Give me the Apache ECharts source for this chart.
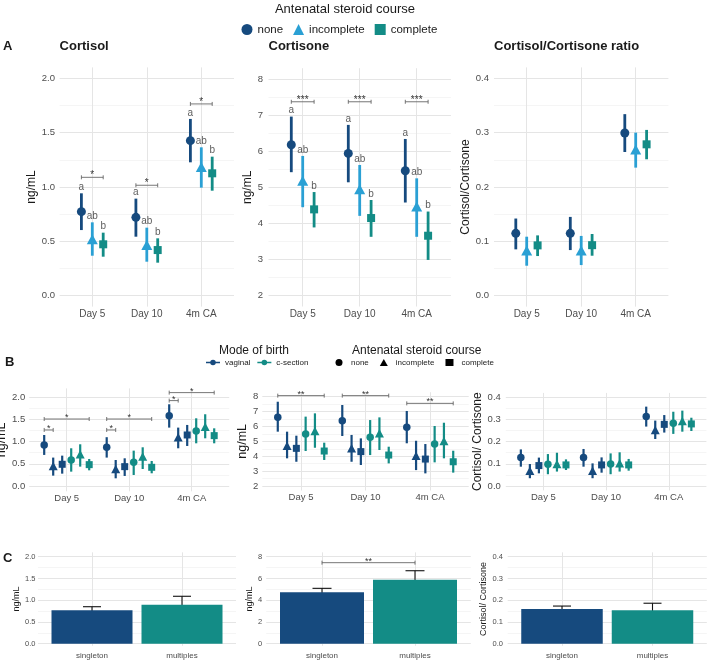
<!DOCTYPE html>
<html><head><meta charset="utf-8">
<script src="https://cdn.jsdelivr.net/npm/echarts@6/dist/echarts.min.js"></script>
<style>html,body{margin:0;padding:0;background:#fff}#c{width:708px;height:661px}</style>
</head><body><div id="c"></div>
<script>
// ---------------- DATA ----------------
const timepoints = ['Day 5', 'Day 10', '4m CA'];
const pluralityGroups = ['singleton', 'multiples'];
const groupLetters = ['a', 'ab', 'b'];

// Panel A: [mean, lower, upper] for Day 5, Day 10, 4m CA
const aCortisolNone = [[0.773,0.604,0.942],[0.721,0.543,0.893],[1.426,1.227,1.626]];
const aCortisolIncomplete = [[0.52,0.368,0.675],[0.466,0.313,0.626],[1.184,0.994,1.365]];
const aCortisolComplete = [[0.473,0.359,0.58],[0.42,0.304,0.528],[1.126,0.966,1.279]];
const aCortisolSig = [1.089, 1.016, 1.764];
const aCortisolSigText = ['*', '*', '*'];

const aCortisoneNone = [[6.18,5.42,6.96],[5.94,5.14,6.73],[5.46,4.58,6.34]];
const aCortisoneIncomplete = [[5.18,4.45,5.87],[4.95,4.21,5.62],[4.47,3.63,5.25]];
const aCortisoneComplete = [[4.39,3.89,4.87],[4.15,3.63,4.65],[3.66,2.99,4.33]];
const aCortisoneSig = [7.37, 7.37, 7.37];
const aCortisoneSigText = ['***', '***', '***'];

const aRatioNone = [[0.1147,0.0853,0.142],[0.1147,0.084,0.145],[0.2994,0.2644,0.334]];
const aRatioIncomplete = [[0.083,0.0552,0.1086],[0.083,0.0564,0.11],[0.269,0.2356,0.30]];
const aRatioComplete = [[0.0926,0.073,0.111],[0.093,0.0736,0.1135],[0.2785,0.251,0.305]];

// Panel B: [mean, lower, upper] for Day 5, Day 10, 4m CA
const bCortisolVagNone = [[0.925,0.70,1.15],[0.872,0.64,1.10],[1.586,1.316,1.842]];
const bCortisolVagIncomplete = [[0.45,0.233,0.64],[0.383,0.173,0.586],[1.098,0.85,1.316]];
const bCortisolVagComplete = [[0.489,0.278,0.684],[0.436,0.226,0.624],[1.15,0.902,1.376]];
const bCortisolCsNone = [[0.586,0.323,0.85],[0.534,0.248,0.797],[1.24,0.962,1.526]];
const bCortisolCsIncomplete = [[0.714,0.436,0.94],[0.662,0.383,0.872],[1.338,1.075,1.617]];
const bCortisolCsComplete = [[0.481,0.353,0.609],[0.421,0.286,0.564],[1.135,0.962,1.30]];
const bCortisolSigShort = [1.263, 1.263, 1.925];
const bCortisolSigLong = [1.51, 1.51, 2.105];

const bCortisoneVagNone = [[6.61,5.65,7.66],[6.39,5.36,7.44],[5.94,4.87,7.04]];
const bCortisoneVagIncomplete = [[4.71,3.86,5.65],[4.53,3.63,5.43],[4.04,3.07,5.04]];
const bCortisoneVagComplete = [[4.53,3.63,5.38],[4.31,3.41,5.2],[3.81,2.85,4.82]];
const bCortisoneCsNone = [[5.49,4.35,6.66],[5.27,4.08,6.43],[4.82,3.59,6.03]];
const bCortisoneCsIncomplete = [[5.69,4.57,6.88],[5.54,4.42,6.61],[5.02,3.86,6.25]];
const bCortisoneCsComplete = [[4.35,3.75,4.91],[4.08,3.52,4.64],[3.63,2.9,4.37]];
const bCortisoneSig = [8.07, 8.07, 7.55];

const bRatioVagNone = [[0.128,0.087,0.165],[0.128,0.087,0.167],[0.313,0.268,0.358]];
const bRatioVagIncomplete = [[0.069,0.035,0.099],[0.069,0.035,0.102],[0.253,0.212,0.295]];
const bRatioVagComplete = [[0.092,0.057,0.128],[0.095,0.06,0.129],[0.278,0.241,0.32]];
const bRatioCsNone = [[0.098,0.053,0.144],[0.099,0.053,0.147],[0.283,0.235,0.335]];
const bRatioCsIncomplete = [[0.099,0.065,0.15],[0.102,0.065,0.152],[0.293,0.245,0.34]];
const bRatioCsComplete = [[0.095,0.072,0.12],[0.095,0.069,0.122],[0.28,0.248,0.308]];

// Panel C: [mean, lower, upper] for singleton, multiples
const cCortisol = [[0.768,0.676,0.85],[0.897,0.713,1.09]];
const cCortisone = [[4.73,4.36,5.09],[5.89,5.03,6.71]];
const cCortisoneSig = 7.45;
const cRatio = [[0.1595,0.143,0.173],[0.1535,0.121,0.186]];

// ---------------- STYLE ----------------
const FONT = '"Liberation Sans", Arial, Helvetica, sans-serif';
const COL_NONE = '#164a7e', COL_INC = '#2aa0d4', COL_COMP = '#138c86';
const COL_VAG = '#164a7e', COL_CS = '#138c86';
const GRID_C = '#e5e5e5', MINOR_C = '#f1f1f1';
const TICK_C = '#4d4d4d';

const option = {animation:false, backgroundColor:'#fff', textStyle:{fontFamily:FONT},
  grid:[], xAxis:[], yAxis:[], series:[], title:[], legend:[]};

const isMult = (v, s) => Math.abs(v / s - Math.round(v / s)) < 1e-6;

function addPanel(p) {
  const gi = option.grid.length;
  option.grid.push({left:p.left, top:p.top, width:p.width, height:p.height, containLabel:false, outerBoundsMode:'none'});
  option.xAxis.push({type:'value', gridIndex:gi, min:p.xmin, max:p.xmax, minInterval:1, maxInterval:1,
    axisLine:{show:false}, axisTick:{show:false},
    axisLabel:{color:TICK_C, fontSize:p.xFont, margin:p.xMargin, fontFamily:FONT,
      formatter: v => (isMult(v,1) && v >= 1 && v <= p.cats.length) ? p.cats[Math.round(v)-1] : ''},
    splitLine:{show:true, showMinLine:false, showMaxLine:false, lineStyle:{color:GRID_C, width:1}}});
  option.yAxis.push({type:'value', gridIndex:gi, min:p.ymin, max:p.ymax, minInterval:p.yint, maxInterval:p.yint,
    name:p.yName, nameLocation:'middle', nameGap:p.nameGap, nameRotate:90,
    nameTextStyle:{color:'#1a1a1a', fontSize:p.nameFont, fontFamily:FONT},
    axisLine:{show:false}, axisTick:{show:false},
    axisLabel:{color:TICK_C, fontSize:p.yFont, margin:p.yMargin, fontFamily:FONT,
      formatter: v => isMult(v, p.yint) ? v.toFixed(p.dec) : ''},
    splitLine:{show:true, showMinLine:false, showMaxLine:false, lineStyle:{color:GRID_C, width:1}},
    minorTick:{show:false, splitNumber:2},
    minorSplitLine:{show:true, lineStyle:{color:MINOR_C, width:0.7}}});
  return gi;
}

function errBars(gi, rows, color, lw, capPx) {
  option.series.push({type:'custom', xAxisIndex:gi, yAxisIndex:gi, silent:true, z:2, clip:false,
    data: rows, encode:{x:0, y:[1,2]},
    renderItem: function(params, api) {
      const x = api.value(0), a = api.coord([x, api.value(1)]), b = api.coord([x, api.value(2)]);
      const st = {stroke:color, lineWidth:lw};
      const ch = [{type:'line', shape:{x1:a[0], y1:a[1], x2:b[0], y2:b[1]}, style:st}];
      if (capPx) {
        ch.push({type:'line', shape:{x1:a[0]-capPx/2, y1:a[1], x2:a[0]+capPx/2, y2:a[1]}, style:st});
        ch.push({type:'line', shape:{x1:b[0]-capPx/2, y1:b[1], x2:b[0]+capPx/2, y2:b[1]}, style:st});
      }
      return {type:'group', children:ch};
    }});
}

function brackets(gi, rows, fontSize) { // rows: [x1, x2, y, text]
  option.series.push({type:'custom', xAxisIndex:gi, yAxisIndex:gi, silent:true, z:4, clip:false,
    data: rows.map(r => [r[0], r[1], r[2]]), encode:{x:[0,1], y:2},
    renderItem: function(params, api) {
      const t = rows[params.dataIndex][3];
      const a = api.coord([api.value(0), api.value(2)]), b = api.coord([api.value(1), api.value(2)]);
      const st = {stroke:'#666', lineWidth:0.9};
      return {type:'group', children:[
        {type:'line', shape:{x1:a[0], y1:a[1], x2:b[0], y2:b[1]}, style:st},
        {type:'line', shape:{x1:a[0], y1:a[1]-2, x2:a[0], y2:a[1]+2}, style:st},
        {type:'line', shape:{x1:b[0], y1:b[1]-2, x2:b[0], y2:b[1]+2}, style:st},
        {type:'text', x:(a[0]+b[0])/2, y:a[1]+3,
          style:{text:t, align:'center', verticalAlign:'bottom', textAlign:'center', textVerticalAlign:'bottom',
                 fill:'#333', fontSize:fontSize, fontFamily:FONT}}
      ]};
    }});
}

function pointGroups(gi, groups, dodge, colors, symbols, sizes, names, lw) {
  groups.forEach((g, k) => {
    errBars(gi, g.map((r, i) => [i + 1 + dodge[k], r[1], r[2]]), colors[k], lw, 0);
  });
  groups.forEach((g, k) => {
    option.series.push({type:'scatter', name:names[k], xAxisIndex:gi, yAxisIndex:gi, silent:true, z:3,
      symbol:symbols[k], symbolSize:sizes[k], itemStyle:{color:colors[k], opacity:1}, emphasis:{disabled:true},
      data: g.map((r, i) => [i + 1 + dodge[k], r[0]])});
  });
}

function letters(gi, groups, dodge) {
  const data = [];
  groups.forEach((g, k) => g.forEach((r, i) => data.push({name:groupLetters[k], value:[i + 1 + dodge[k], r[2]]})));
  option.series.push({type:'scatter', xAxisIndex:gi, yAxisIndex:gi, silent:true, z:4, symbolSize:0.1,
    itemStyle:{color:'rgba(0,0,0,0)'}, data:data,
    label:{show:true, position:'top', distance:1, formatter:'{b}', color:'#333', fontSize:10, fontFamily:FONT}});
}

// ---------------- PANEL A ----------------
const dodgeA = [-0.2, 0, 0.2];
const aColors = [COL_NONE, COL_INC, COL_COMP];
const aSymbols = ['circle', 'triangle', 'rect'];
const aSizes = [9, [11, 10], 8];
const aNames = ['none', 'incomplete', 'complete'];

const gA1 = addPanel({left:59.6, top:67.4, width:174.4, height:239.2, xmin:0.4, xmax:3.6, cats:timepoints,
  ymin:-0.1, ymax:2.1, yint:0.5, dec:1, yName:'ng/mL', nameGap:21.6, nameFont:12, yFont:9.5, yMargin:4.6, xFont:10, xMargin:2.5});
const aCortisolGroups = [aCortisolNone, aCortisolIncomplete, aCortisolComplete];
pointGroups(gA1, aCortisolGroups, dodgeA, aColors, aSymbols, aSizes, aNames, 2.8);
letters(gA1, aCortisolGroups, dodgeA);
brackets(gA1, aCortisolSig.map((y, i) => [i + 1 - 0.2, i + 1 + 0.2, y, aCortisolSigText[i]]), 10);

const gA2 = addPanel({left:268.5, top:68.2, width:182.4, height:238.3, xmin:0.4, xmax:3.6, cats:timepoints,
  ymin:1.7, ymax:8.3, yint:1, dec:0, yName:'ng/mL', nameGap:12.5, nameFont:12, yFont:9.5, yMargin:5.5, xFont:10, xMargin:2.5});
const aCortisoneGroups = [aCortisoneNone, aCortisoneIncomplete, aCortisoneComplete];
pointGroups(gA2, aCortisoneGroups, dodgeA, aColors, aSymbols, aSizes, aNames, 2.8);
letters(gA2, aCortisoneGroups, dodgeA);
brackets(gA2, aCortisoneSig.map((y, i) => [i + 1 - 0.2, i + 1 + 0.2, y, aCortisoneSigText[i]]), 10);

const gA3 = addPanel({left:494, top:67.4, width:174.4, height:239.2, xmin:0.4, xmax:3.6, cats:timepoints,
  ymin:-0.02, ymax:0.42, yint:0.1, dec:1, yName:'Cortisol/Cortisone', nameGap:21.3, nameFont:12, yFont:9.5, yMargin:5, xFont:10, xMargin:2.5});
pointGroups(gA3, [aRatioNone, aRatioIncomplete, aRatioComplete], dodgeA, aColors, aSymbols, aSizes, aNames, 2.8);

// ---------------- PANEL B ----------------
const dodgeB = [-0.36, -0.216, -0.072, 0.072, 0.216, 0.36];
const bColors = [COL_VAG, COL_VAG, COL_VAG, COL_CS, COL_CS, COL_CS];
const bSymbols = ['circle', 'triangle', 'rect', 'circle', 'triangle', 'rect'];
const bSizes = [7.5, [9, 8.5], 7, 7.5, [9, 8.5], 7];
const bNames = ['vaginal', 'vaginal', 'vaginal', 'c-section', 'c-section', 'c-section'];

const gB1 = addPanel({left:29.2, top:388.4, width:200, height:102.9, xmin:0.4, xmax:3.6, cats:timepoints,
  ymin:-0.12, ymax:2.2, yint:0.5, dec:1, yName:'ng/mL', nameGap:14.7, nameFont:12.5, yFont:9.5, yMargin:4, xFont:9.5, xMargin:2});
pointGroups(gB1, [bCortisolVagNone, bCortisolVagIncomplete, bCortisolVagComplete, bCortisolCsNone, bCortisolCsIncomplete, bCortisolCsComplete],
  dodgeB, bColors, bSymbols, bSizes, bNames, 2.2);
brackets(gB1, bCortisolSigShort.map((y, i) => [i + 1 - 0.36, i + 1 - 0.216, y, '*']), 9);
brackets(gB1, bCortisolSigLong.map((y, i) => [i + 1 - 0.36, i + 1 + 0.36, y, '*']), 9);

const gB2 = addPanel({left:262.3, top:392.2, width:206.4, height:98.3, xmin:0.4, xmax:3.6, cats:timepoints,
  ymin:1.7, ymax:8.3, yint:1, dec:0, yName:'ng/mL', nameGap:12.8, nameFont:12.5, yFont:9.5, yMargin:4, xFont:9.5, xMargin:2});
pointGroups(gB2, [bCortisoneVagNone, bCortisoneVagIncomplete, bCortisoneVagComplete, bCortisoneCsNone, bCortisoneCsIncomplete, bCortisoneCsComplete],
  dodgeB, bColors, bSymbols, bSizes, bNames, 2.2);
brackets(gB2, bCortisoneSig.map((y, i) => [i + 1 - 0.36, i + 1 + 0.36, y, '**']), 9);

const gB3 = addPanel({left:505.8, top:392.9, width:200.6, height:97.5, xmin:0.4, xmax:3.6, cats:timepoints,
  ymin:-0.02, ymax:0.42, yint:0.1, dec:1, yName:'Cortisol/ Cortisone', nameGap:17.8, nameFont:12, yFont:9.5, yMargin:5, xFont:9.5, xMargin:2});
pointGroups(gB3, [bRatioVagNone, bRatioVagIncomplete, bRatioVagComplete, bRatioCsNone, bRatioCsIncomplete, bRatioCsComplete],
  dodgeB, bColors, bSymbols, bSizes, bNames, 2.2);

// ---------------- PANEL C ----------------
function barPanel(gi, rows, barW, capPx) {
  option.series.push({type:'bar', xAxisIndex:gi, yAxisIndex:gi, silent:true, z:2, barWidth:barW,
    data: rows.map((r, i) => ({value:[i + 1, r[0]], itemStyle:{color: i === 0 ? COL_VAG : COL_CS}}))});
  errBars(gi, rows.map((r, i) => [i + 1, r[1], r[2]]), '#111', 1.1, capPx);
}
const gC1 = addPanel({left:38, top:552.35, width:198, height:93.5, xmin:0.4, xmax:2.6, cats:pluralityGroups,
  ymin:-0.05, ymax:2.1, yint:0.5, dec:1, yName:'ng/mL', nameGap:16.5, nameFont:9, yFont:7.5, yMargin:2.5, xFont:8, xMargin:6});
barPanel(gC1, cCortisol, 81, 18);
const gC2 = addPanel({left:266.2, top:552.35, width:204.6, height:93.5, xmin:0.4, xmax:2.6, cats:pluralityGroups,
  ymin:-0.2, ymax:8.4, yint:2, dec:0, yName:'ng/mL', nameGap:10.7, nameFont:9, yFont:7.5, yMargin:4, xFont:8, xMargin:6});
barPanel(gC2, cCortisone, 84, 19);
brackets(gC2, [[1, 2, cCortisoneSig, '**']], 9);
const gC3 = addPanel({left:507.7, top:552.35, width:199.1, height:93.5, xmin:0.4, xmax:2.6, cats:pluralityGroups,
  ymin:-0.01, ymax:0.42, yint:0.1, dec:1, yName:'Cortisol/ Cortisone', nameGap:19.2, nameFont:9, yFont:7.5, yMargin:4.7, xFont:8, xMargin:6});
barPanel(gC3, cRatio, 81.5, 18);

// ---------------- TITLES & LEGENDS ----------------
const t = (text, left, top, size, bold, align) => ({text, left, top, padding:0, textAlign:align || 'left',
  textStyle:{fontSize:size, fontWeight:bold ? 'bold' : 'normal', color:'#1a1a1a', fontFamily:FONT}});
option.title.push(t('Antenatal steroid course', 345, 2.5, 13, false, 'center'));
option.title.push(t('A', 3, 40, 13, true));
option.title.push(t('Cortisol', 59.6, 40, 13, true));
option.title.push(t('Cortisone', 268.5, 40, 13, true));
option.title.push(t('Cortisol/Cortisone ratio', 494, 40, 13, true));
option.title.push(t('B', 5, 356, 13, true));
option.title.push(t('Mode of birth', 219, 345, 12, false));
option.title.push(t('Antenatal steroid course', 352, 345, 12, false));
option.title.push(t('C', 3, 552, 13, true));

option.legend.push({left:241.5, top:23.5, padding:0, itemWidth:11, itemHeight:11, itemGap:10, selectedMode:false,
  textStyle:{fontSize:11.5, color:'#1a1a1a', fontFamily:FONT},
  data:[{name:'none', icon:'circle'}, {name:'incomplete', icon:'triangle'}, {name:'complete', icon:'rect'}]});
const modeIcon = 'path://M0,4H20V6H0Z M14,5A4,4 0 1 1 6,5A4,4 0 1 1 14,5Z';
option.legend.push({left:206, top:358.5, padding:0, itemWidth:14, itemHeight:7, itemGap:7, selectedMode:false,
  textStyle:{fontSize:8, color:'#1a1a1a', fontFamily:FONT},
  data:[{name:'vaginal', icon:modeIcon}, {name:'c-section', icon:modeIcon}]});
option.legend.push({left:335.5, top:358.5, padding:0, itemWidth:8, itemHeight:7, itemGap:11, selectedMode:false,
  textStyle:{fontSize:8, color:'#1a1a1a', fontFamily:FONT, padding:[0,0,0,3]},
  data:[{name:'none', icon:'circle', itemStyle:{color:'#000'}}, {name:'incomplete', icon:'triangle', itemStyle:{color:'#000'}},
        {name:'complete', icon:'rect', itemStyle:{color:'#000'}}]});

const chart = echarts.init(document.getElementById('c'), null, {renderer:'canvas'});
chart.setOption(option);
</script>
</body></html>
